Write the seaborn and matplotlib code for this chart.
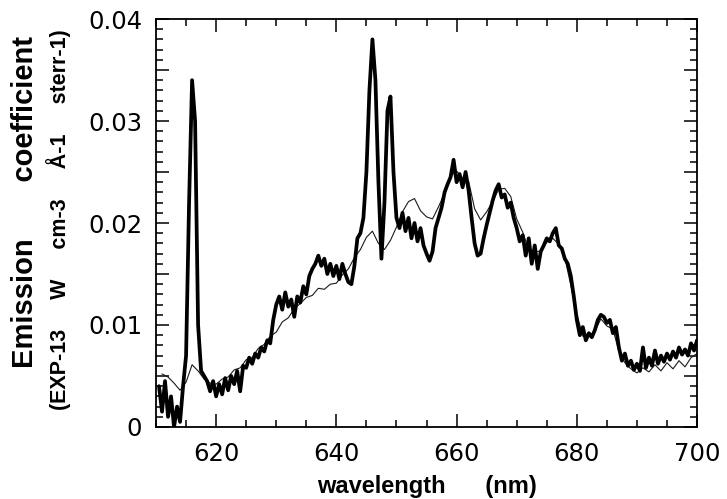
import numpy as np
import matplotlib
matplotlib.use("Agg")
import matplotlib.pyplot as plt
import seaborn as sns
from matplotlib.ticker import MultipleLocator, FuncFormatter

# measured spectrum (thick), sampled every 0.5 nm from 610.5 to 700 nm
exp_nm = np.arange(610.5, 700.01, 0.5)
exp_val = [
    0.004, 0.0015, 0.0045, 0.001, 0.003, 0.0, 0.002, 0.0005, 0.004, 0.007,
    0.022, 0.034, 0.030, 0.010, 0.0055, 0.005, 0.0045, 0.0035, 0.0045, 0.003,
    0.0042, 0.0032, 0.0048, 0.0036, 0.005, 0.0042, 0.0055, 0.0035, 0.006, 0.0058,
    0.0068, 0.0062, 0.0072, 0.0068, 0.0078, 0.0074, 0.0085, 0.0082, 0.0105, 0.012,
    0.0128, 0.0115, 0.0132, 0.0118, 0.0125, 0.0108, 0.0128, 0.0122, 0.0138, 0.013,
    0.0148, 0.0155, 0.016, 0.0168, 0.0158, 0.0165, 0.015, 0.016, 0.0148, 0.0158,
    0.0145, 0.016, 0.015, 0.0142, 0.014, 0.0158, 0.0185, 0.019, 0.0205, 0.025,
    0.033, 0.038, 0.034, 0.024, 0.0165, 0.022, 0.031, 0.0324, 0.025, 0.0205,
    0.0195, 0.021, 0.0192, 0.0205, 0.0185, 0.02, 0.0182, 0.0195, 0.0178, 0.017,
    0.0163, 0.0172, 0.0195, 0.0205, 0.0215, 0.023, 0.0238, 0.0245, 0.0262, 0.024,
    0.0248, 0.0235, 0.025, 0.0232, 0.0205, 0.018, 0.0168, 0.017, 0.0185, 0.0198,
    0.021, 0.0222, 0.0232, 0.0238, 0.0225, 0.0228, 0.0215, 0.022, 0.0205, 0.0195,
    0.0182, 0.0188, 0.0168, 0.0185, 0.016, 0.0178, 0.0155, 0.0172, 0.0178, 0.0185,
    0.0182, 0.019, 0.0195, 0.0178, 0.0175, 0.0165, 0.016, 0.0148, 0.0128, 0.0105,
    0.009, 0.0098, 0.0085, 0.0092, 0.0088, 0.0095, 0.0105, 0.011, 0.0108, 0.0102,
    0.0105, 0.0092, 0.0098, 0.0078, 0.0065, 0.0072, 0.006, 0.0065, 0.0056, 0.0062,
    0.0055, 0.0078, 0.0058, 0.0068, 0.006, 0.0075, 0.0062, 0.007, 0.0064, 0.0072,
    0.0066, 0.0074, 0.0068, 0.0078, 0.0071, 0.0076, 0.007, 0.0082, 0.0075, 0.0085,
]

# calculated spectrum (thin), every 1 nm from 611 to 700 nm
calc_nm = np.arange(611, 701, 1)
calc_val = [
    0.0052, 0.0049, 0.0043, 0.0036, 0.0044, 0.0061, 0.0055, 0.0047, 0.0043, 0.0042,
    0.0047, 0.0049, 0.0056, 0.0058, 0.0066, 0.0068, 0.0077, 0.0081, 0.0089, 0.0093,
    0.0103, 0.0107, 0.0116, 0.0121, 0.0127, 0.0129, 0.0136, 0.0135, 0.014, 0.0141,
    0.0149, 0.0155, 0.0166, 0.0174, 0.0186, 0.0192, 0.018, 0.0174, 0.0183, 0.0196,
    0.0211, 0.0221, 0.0224, 0.0212, 0.0206, 0.0204, 0.0216, 0.0229, 0.0246, 0.0251,
    0.0244, 0.0241, 0.0214, 0.0203, 0.0211, 0.0221, 0.0233, 0.0234, 0.0226, 0.0204,
    0.0191, 0.0174, 0.0171, 0.0173, 0.0181, 0.0185, 0.0179, 0.0166, 0.0139, 0.0111,
    0.0089, 0.0089, 0.0094, 0.0106, 0.0099, 0.0096, 0.0074, 0.0063, 0.0057, 0.0053,
    0.0058, 0.0054, 0.0061, 0.0055, 0.0063, 0.0057, 0.0065, 0.0059, 0.0068, 0.0072,
]

x_label = "wavelength      (nm)"
y_label_1 = "Emission       coefficient"
y_label_2 = "(EXP-13     W     cm-3     Å-1     sterr-1)"

sns.set_theme(style="ticks")
plt.rcParams['font.family'] = ['Liberation Sans', 'DejaVu Sans']

fig = plt.figure(figsize=(7.27, 4.99), dpi=100)
ax = fig.add_axes([0.2146, 0.1443, 0.7442, 0.8176])

sns.lineplot(x=calc_nm, y=calc_val, ax=ax, color='#1a1a1a', linewidth=0.8, estimator=None)
sns.lineplot(x=exp_nm, y=exp_val, ax=ax, color='black', linewidth=2.7, estimator=None)

ax.set_xlim(610, 700)
ax.set_ylim(0, 0.04)

ax.xaxis.set_major_locator(MultipleLocator(20))
ax.xaxis.set_minor_locator(MultipleLocator(5))
ax.yaxis.set_major_locator(MultipleLocator(0.005))
ax.yaxis.set_minor_locator(MultipleLocator(0.001))


def ylab(v, pos):
    if abs(v) < 1e-9:
        return '0'
    if abs(v * 100 - round(v * 100)) < 1e-6:
        return f'{v:.2f}'
    return ''


ax.yaxis.set_major_formatter(FuncFormatter(ylab))

ax.tick_params(which='both', direction='in', top=True, right=True, color='black', width=1.1)
ax.tick_params(which='major', length=9.5)
ax.tick_params(which='minor', length=5)
ax.tick_params(axis='x', which='major', pad=11)
ax.tick_params(axis='y', which='major', pad=10)
for lab in ax.get_xticklabels() + ax.get_yticklabels():
    lab.set_family('DejaVu Sans')
    lab.set_fontsize(17.5)
    lab.set_color('black')

for sp in ax.spines.values():
    sp.set_linewidth(1.3)
    sp.set_color('black')

ax.set_xlabel(x_label, fontsize=17, fontweight='bold', labelpad=6, color='black')
ax.set_ylabel('')

fig.text(0.035, 0.595, y_label_1, rotation=90, ha='center', va='center',
         fontsize=21, fontweight='bold', color='black')
fig.text(0.081, 0.559, y_label_2, rotation=90, ha='center', va='center',
         fontsize=15.5, fontweight='bold', color='black')

fig.savefig('out.png', dpi=100)
